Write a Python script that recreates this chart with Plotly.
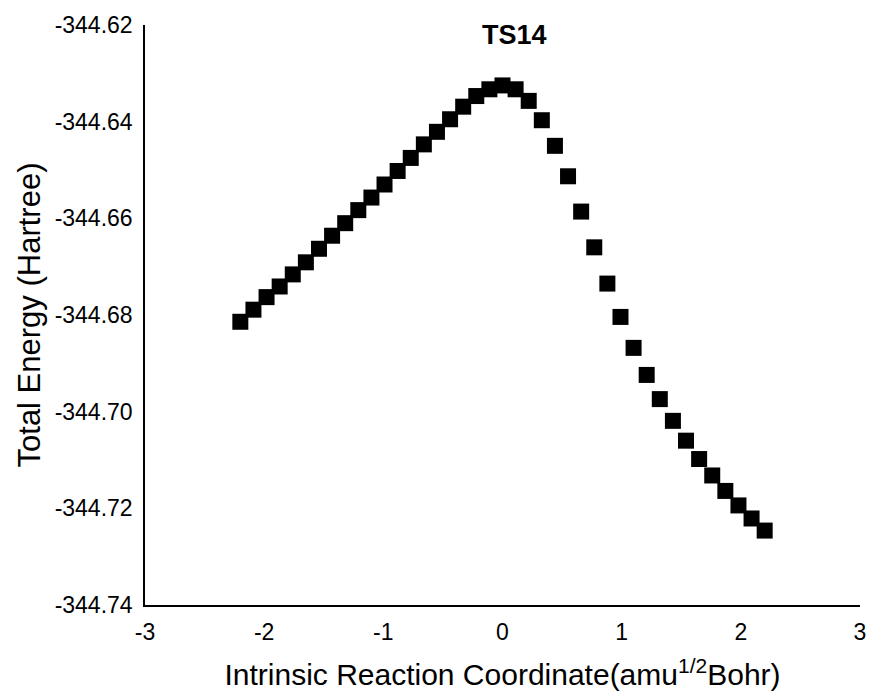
import plotly.graph_objects as go

# IRC points, step 0.11 amu^1/2 Bohr
irc = [-2.2, -2.09, -1.98, -1.87, -1.76, -1.65, -1.54, -1.43, -1.32, -1.21, -1.1,
       -0.99, -0.88, -0.77, -0.66, -0.55, -0.44, -0.33, -0.22, -0.11, 0.0,
       0.11, 0.22, 0.33, 0.44, 0.55, 0.66, 0.77, 0.88, 0.99, 1.1,
       1.21, 1.32, 1.43, 1.54, 1.65, 1.76, 1.87, 1.98, 2.09, 2.2]
energy = [-344.6814, -344.6789, -344.6763, -344.6741, -344.6716, -344.6691, -344.6663,
          -344.6636, -344.6610, -344.6583, -344.6557, -344.6530, -344.6502, -344.6475,
          -344.6447, -344.6421, -344.6395, -344.6369, -344.6347, -344.6333, -344.6325,
          -344.6333, -344.6357, -344.6397, -344.6450, -344.6513, -344.6586, -344.6660,
          -344.6735, -344.6804, -344.6868, -344.6924, -344.6974, -344.7019, -344.7060,
          -344.7098, -344.7132, -344.7164, -344.7194, -344.7221, -344.7246]

x_ticks = [-3, -2, -1, 0, 1, 2, 3]
y_ticks = [-344.74, -344.72, -344.70, -344.68, -344.66, -344.64, -344.62]

FONT = "Liberation Sans, Arial, sans-serif"

fig = go.Figure()
fig.add_trace(go.Scatter(
    x=irc, y=energy, mode="markers",
    marker=dict(symbol="square", size=16, color="black", line=dict(width=0)),
    showlegend=False,
))

fig.add_annotation(
    text="<b>TS14</b>", x=0.517, y=0.982, xref="paper", yref="paper",
    xanchor="center", yanchor="middle", showarrow=False,
    font=dict(family=FONT, size=27, color="black"),
)

fig.update_xaxes(
    range=[-3, 3], tickvals=x_ticks, ticktext=[str(v) for v in x_ticks],
    showgrid=False, zeroline=False, showline=True, linecolor="black", linewidth=1.5,
    ticks="", ticklabelstandoff=6, tickfont=dict(family=FONT, size=23, color="black"),
    title=dict(text="Intrinsic Reaction Coordinate(amu<sup>1/2</sup>Bohr)",
               font=dict(family=FONT, size=30, color="black"), standoff=20),
)
fig.update_yaxes(
    range=[-344.74, -344.62], tickvals=y_ticks, ticktext=["%.2f" % v for v in y_ticks],
    showgrid=False, zeroline=False, showline=True, linecolor="black", linewidth=1.5,
    ticks="", ticklabelstandoff=6, tickfont=dict(family=FONT, size=23, color="black"),
    title=dict(text="Total Energy (Hartree)",
               font=dict(family=FONT, size=31, color="black"), standoff=5),
)

fig.update_layout(
    width=876, height=697,
    margin=dict(l=145, r=16, t=25, b=92, autoexpand=False),
    plot_bgcolor="white", paper_bgcolor="white",
    font=dict(family=FONT, color="black"),
)

# drop the browser's default body margin so the figure sits at the page corner
fig.write_html("out.html", config={"displayModeBar": False},
               post_script="document.body.style.margin='0';")
